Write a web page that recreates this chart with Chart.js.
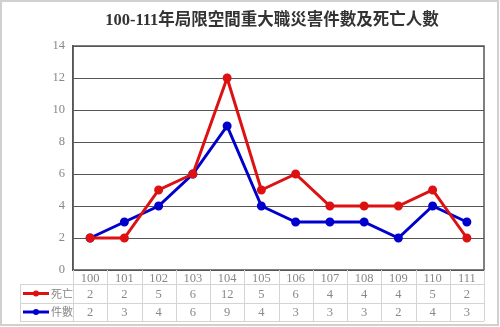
<!DOCTYPE html>
<html>
<head>
<meta charset="utf-8">
<script src="https://cdn.jsdelivr.net/npm/chart.js@4/dist/chart.umd.min.js"></script>
<style>
  html, body { margin: 0; padding: 0; background: #fff; }
  #wrap { width: 500px; height: 327px; }
</style>
</head>
<body>
<div id="wrap"><canvas id="chart" width="500" height="327"></canvas></div>
<script>
// datos
const titulo = "100-111年局限空間重大職災害件數及死亡人數";
const anios = ["100", "101", "102", "103", "104", "105", "106", "107", "108", "109", "110", "111"];
const muertes = [2, 2, 5, 6, 12, 5, 6, 4, 4, 4, 5, 2];
const casos = [2, 3, 4, 6, 9, 4, 3, 3, 3, 2, 4, 3];
const nombres = ["死亡", "件數"];
const colores = ["#dd1111", "#0000cc"];

const serif = '"Liberation Serif", "DejaVu Serif", "Noto Sans CJK TC", serif';

// dibuja titulo, marco y la tabla de datos debajo del grafico
const tablaPlugin = {
  id: "tabla",
  afterDraw(chart) {
    const ctx = chart.ctx;
    const area = chart.chartArea;
    const x = chart.scales.x;
    const ancho = (area.right - area.left) / anios.length;
    const filaCat = 284;
    const filas = [[284, 303], [303, 321]];
    const izq = 20;

    ctx.save();
    // borde exterior
    ctx.strokeStyle = "#d0d0d0";
    ctx.lineWidth = 2;
    ctx.strokeRect(1, 1, 497, 324);

    // titulo
    ctx.fillStyle = "#333";
    ctx.font = "bold 16.5px " + serif;
    ctx.textAlign = "center";
    ctx.textBaseline = "middle";
    ctx.fillText(titulo, 272, 21);

    // marco del area
    ctx.strokeStyle = "#555";
    ctx.lineWidth = 1.5;
    ctx.strokeRect(area.left, area.top, area.right - area.left, area.bottom - area.top);

    // lineas de la tabla
    ctx.strokeStyle = "#d4d4d4";
    ctx.lineWidth = 1;
    ctx.beginPath();
    for (let i = 0; i <= anios.length; i++) {
      const px = Math.round(area.left + i * ancho) + 0.5;
      ctx.moveTo(px, area.bottom);
      ctx.lineTo(px, filas[1][1]);
    }
    ctx.moveTo(izq + 0.5, filaCat);
    ctx.lineTo(izq + 0.5, filas[1][1]);
    [filaCat, filas[0][1], filas[1][1]].forEach(y => {
      ctx.moveTo(izq, y + 0.5);
      ctx.lineTo(area.right, y + 0.5);
    });
    ctx.stroke();

    // valores y leyenda
    const series = [muertes, casos];
    series.forEach((vals, s) => {
      const yc = (filas[s][0] + filas[s][1]) / 2 + 1;
      ctx.fillStyle = "#888";
      ctx.font = "12.5px " + serif;
      ctx.textAlign = "center";
      vals.forEach((v, i) => ctx.fillText(String(v), x.getPixelForValue(i), yc));

      ctx.strokeStyle = colores[s];
      ctx.lineWidth = 3;
      ctx.beginPath();
      ctx.moveTo(23, yc - 1);
      ctx.lineTo(49, yc - 1);
      ctx.stroke();
      ctx.fillStyle = colores[s];
      ctx.beginPath();
      ctx.arc(36, yc - 1, 3, 0, Math.PI * 2);
      ctx.fill();
      ctx.fillStyle = "#888";
      ctx.font = '11px "Noto Sans CJK TC", sans-serif';
      ctx.textAlign = "left";
      ctx.fillText(nombres[s], 51, yc - 1);
    });
    ctx.restore();
  }
};

const ctx = document.getElementById("chart").getContext("2d");
new Chart(ctx, {
  type: "line",
  data: {
    labels: anios,
    datasets: [
      {
        label: nombres[0],
        data: muertes,
        borderColor: colores[0],
        backgroundColor: colores[0],
        borderWidth: 3,
        pointRadius: 3,
        pointHoverRadius: 3,
        tension: 0
      },
      {
        label: nombres[1],
        data: casos,
        borderColor: colores[1],
        backgroundColor: colores[1],
        borderWidth: 3,
        pointRadius: 3,
        pointHoverRadius: 3,
        tension: 0
      }
    ]
  },
  options: {
    responsive: false,
    animation: false,
    layout: { padding: { top: 46, right: 16, bottom: 43, left: 0 } },
    plugins: {
      legend: { display: false },
      title: { display: false },
      tooltip: { enabled: false }
    },
    scales: {
      x: {
        offset: true,
        grid: { display: false, drawTicks: false },
        border: { display: false },
        ticks: {
          color: "#888",
          font: { family: serif, size: 12.5 },
          padding: 1,
          maxRotation: 0,
          autoSkip: false
        },
        afterFit(scale) { scale.height = 14; }
      },
      y: {
        min: 0,
        max: 14,
        ticks: {
          stepSize: 2,
          color: "#888",
          font: { family: serif, size: 12.5 },
          padding: 8
        },
        grid: { color: "#555", lineWidth: 1, drawTicks: false },
        border: { color: "#555", width: 1.5 },
        afterFit(scale) { scale.width = 73; }
      }
    }
  },
  plugins: [tablaPlugin]
});
</script>
</body>
</html>
